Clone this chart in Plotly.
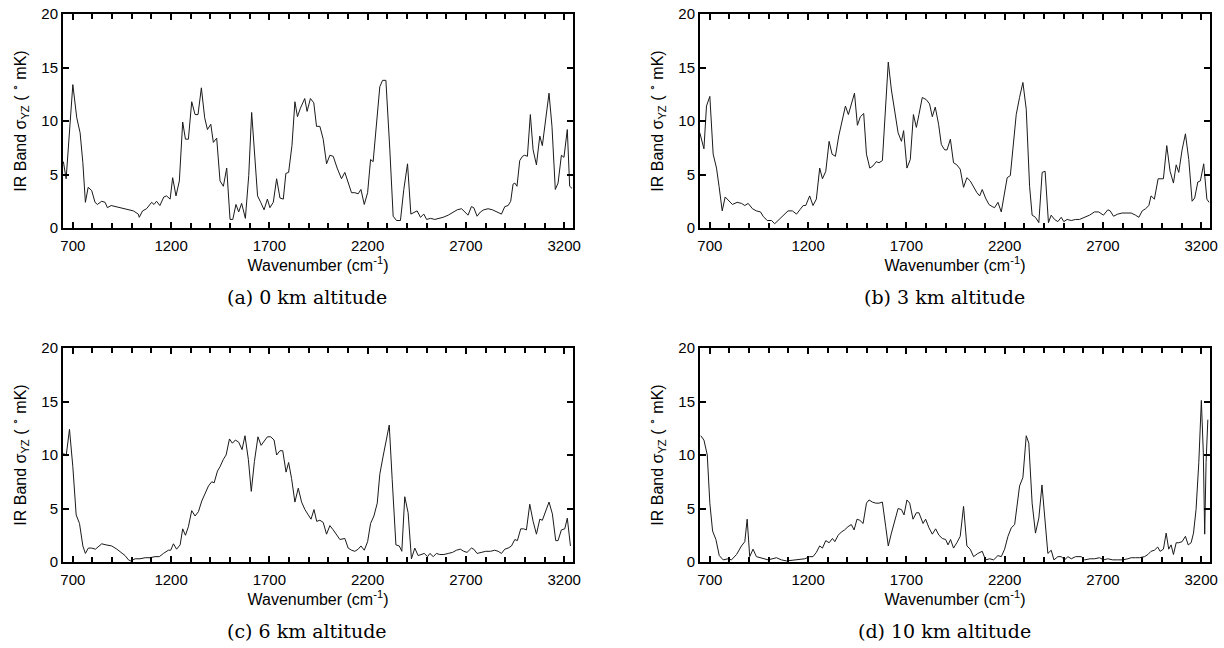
import plotly.graph_objects as go

# ---------------- data ----------------
wn_a = [652, 666, 700, 720, 737, 751, 764, 778, 796, 813,
        825, 847, 864, 876, 895, 940, 1008, 1033, 1038, 1055,
        1075, 1101, 1113, 1126, 1143, 1163, 1177, 1195, 1208, 1225,
        1242, 1259, 1273, 1288, 1305, 1322, 1337, 1354, 1371, 1385,
        1402, 1415, 1432, 1449, 1466, 1483, 1500, 1514, 1530, 1544,
        1559, 1578, 1595, 1610, 1625, 1640, 1656, 1673, 1690, 1703,
        1720, 1737, 1754, 1771, 1784, 1798, 1815, 1830, 1843, 1858,
        1880, 1892, 1909, 1926, 1940, 1957, 1974, 1991, 2008, 2025,
        2045, 2067, 2084, 2101, 2118, 2135, 2152, 2166, 2183, 2200,
        2215, 2228, 2245, 2262, 2276, 2293, 2313, 2330, 2347, 2367,
        2384, 2403, 2420, 2437, 2452, 2469, 2486, 2500, 2520, 2542,
        2564, 2584, 2610, 2635, 2656, 2678, 2694, 2711, 2728, 2740,
        2757, 2774, 2791, 2813, 2835, 2859, 2881, 2898, 2915, 2928,
        2940, 2949, 2960, 2974, 2988, 2999, 3013, 3028, 3042, 3059,
        3076, 3089, 3106, 3123, 3138, 3155, 3169, 3186, 3199, 3216,
        3228, 3240]
val_a = [6.2, 4.6, 13.4, 10.3, 8.9, 6.1, 2.4, 3.8, 3.5, 2.4,
         2.2, 2.5, 2.4, 1.9, 2.1, 1.9, 1.6, 1.3, 1.0, 1.6,
         1.8, 2.4, 2.2, 2.5, 2.1, 2.9, 3.0, 2.7, 4.7, 3.0,
         4.4, 9.9, 8.3, 8.3, 11.8, 10.6, 10.6, 13.1, 10.3, 9.2,
         9.7, 8.0, 8.4, 4.4, 3.9, 5.6, 0.8, 0.8, 2.2, 1.5,
         2.3, 0.9, 4.9, 10.8, 7.2, 3.0, 2.4, 1.7, 2.7, 1.9,
         2.4, 4.6, 2.8, 2.7, 5.1, 5.2, 7.7, 11.8, 10.4, 11.2,
         12.1, 10.9, 12.1, 11.7, 9.5, 9.5, 8.3, 6.0, 6.8, 6.7,
         5.6, 4.6, 5.2, 4.2, 3.3, 3.3, 3.2, 3.6, 2.2, 3.3,
         6.4, 6.2, 10.0, 13.2, 13.8, 13.8, 7.3, 1.1, 0.7, 0.7,
         3.6, 6.0, 1.3, 1.5, 1.6, 1.0, 1.3, 0.8, 0.9, 0.8,
         0.9, 1.0, 1.2, 1.5, 1.7, 1.8, 1.5, 1.2, 2.0, 1.9,
         1.1, 1.5, 1.7, 1.8, 1.7, 1.5, 1.3, 2.0, 2.1, 2.5,
         4.1, 4.2, 3.9, 6.3, 6.7, 6.8, 6.7, 10.6, 7.3, 5.9,
         8.6, 7.7, 10.4, 12.6, 9.5, 3.6, 4.2, 6.8, 6.6, 9.2,
         3.9, 3.7]

wn_b = [649, 670, 683, 700, 717, 734, 747, 763, 778, 798,
        815, 839, 861, 878, 895, 917, 937, 958, 971, 992,
        1014, 1030, 1053, 1076, 1098, 1120, 1141, 1158, 1175, 1188,
        1208, 1225, 1242, 1259, 1273, 1290, 1307, 1322, 1339, 1356,
        1373, 1390, 1405, 1422, 1436, 1451, 1466, 1483, 1497, 1514,
        1530, 1547, 1561, 1578, 1593, 1608, 1624, 1641, 1658, 1675,
        1686, 1703, 1720, 1736, 1751, 1764, 1781, 1801, 1818, 1832,
        1847, 1864, 1878, 1895, 1907, 1924, 1940, 1957, 1974, 1991,
        2008, 2025, 2042, 2059, 2073, 2086, 2103, 2120, 2137, 2149,
        2166, 2183, 2196, 2213, 2229, 2246, 2259, 2276, 2293, 2310,
        2327, 2340, 2357, 2374, 2391, 2406, 2423, 2437, 2454, 2471,
        2488, 2501, 2518, 2539, 2561, 2581, 2607, 2632, 2657, 2679,
        2703, 2725, 2737, 2754, 2776, 2798, 2822, 2844, 2866, 2883,
        2900, 2917, 2934, 2945, 2962, 2981, 2996, 3008, 3025, 3042,
        3059, 3073, 3086, 3103, 3120, 3137, 3154, 3167, 3183, 3196,
        3213, 3229, 3240]
val_b = [8.9, 7.4, 11.4, 12.3, 6.9, 5.6, 3.9, 1.6, 2.9, 2.5,
         2.2, 2.4, 2.3, 2.1, 2.3, 1.8, 1.6, 1.5, 1.1, 0.7,
         0.7, 0.4, 0.8, 1.2, 1.6, 1.6, 1.3, 1.7, 2.1, 2.1,
         3.0, 2.1, 2.7, 5.6, 4.6, 5.3, 8.1, 6.9, 6.7, 8.6,
         10.0, 11.4, 10.6, 11.8, 12.6, 9.6, 10.4, 10.7, 6.9, 5.6,
         5.8, 6.2, 6.1, 6.3, 11.1, 15.5, 12.9, 10.8, 8.9, 8.1,
         9.1, 5.6, 6.4, 10.6, 9.4, 10.6, 12.2, 12.0, 11.6, 10.4,
         11.3, 9.7, 7.8, 7.3, 7.3, 8.3, 6.1, 5.9, 5.5, 3.8,
         4.7, 4.4, 3.8, 3.3, 3.0, 3.6, 2.8, 2.2, 2.0, 1.9,
         2.4, 1.5, 2.9, 4.7, 4.9, 8.3, 10.6, 12.2, 13.6, 11.1,
         3.9, 1.2, 1.0, 0.5, 5.2, 5.3, 0.5, 1.2, 0.8, 0.6,
         1.0, 0.6, 0.8, 0.7, 0.8, 0.8, 1.0, 1.2, 1.5, 1.5,
         1.2, 1.7, 1.6, 1.1, 1.3, 1.4, 1.4, 1.4, 1.2, 1.0,
         1.6, 1.8, 2.1, 3.0, 2.7, 4.6, 4.6, 4.6, 7.7, 5.3,
         4.2, 5.9, 5.2, 7.3, 8.8, 6.4, 2.5, 2.8, 4.3, 4.4,
         6.0, 2.7, 2.4]

wn_c = [652, 666, 683, 700, 717, 734, 751, 764, 779, 796,
        815, 835, 847, 869, 898, 924, 949, 966, 983, 995,
        1017, 1042, 1068, 1093, 1118, 1140, 1161, 1186, 1198, 1212,
        1228, 1246, 1259, 1273, 1288, 1305, 1322, 1339, 1356, 1373,
        1390, 1407, 1419, 1436, 1449, 1466, 1480, 1497, 1512, 1527,
        1544, 1561, 1576, 1593, 1608, 1624, 1642, 1658, 1675, 1690,
        1707, 1724, 1737, 1754, 1768, 1785, 1798, 1813, 1830, 1847,
        1864, 1881, 1898, 1912, 1927, 1941, 1957, 1974, 1991, 2008,
        2025, 2042, 2059, 2084, 2101, 2118, 2135, 2152, 2166, 2183,
        2200, 2215, 2232, 2249, 2262, 2279, 2296, 2310, 2325, 2344,
        2361, 2374, 2389, 2406, 2423, 2440, 2457, 2474, 2488, 2505,
        2517, 2534, 2550, 2567, 2588, 2610, 2632, 2652, 2672, 2689,
        2706, 2728, 2740, 2757, 2779, 2801, 2825, 2847, 2864, 2881,
        2898, 2915, 2932, 2949, 2962, 2979, 2994, 3008, 3025, 3042,
        3059, 3076, 3089, 3106, 3123, 3140, 3157, 3169, 3186, 3203,
        3216, 3232]
val_c = [10.2, 9.9, 12.4, 8.9, 4.4, 3.6, 1.5, 0.8, 1.3, 1.3,
         1.2, 1.5, 1.7, 1.6, 1.5, 1.2, 0.8, 0.6, 0.2, 0.1,
         0.3, 0.3, 0.4, 0.4, 0.5, 0.5, 0.8, 1.1, 1.1, 1.7,
         1.2, 1.6, 3.1, 2.5, 3.3, 4.8, 4.3, 4.7, 5.7, 6.4,
         7.1, 7.5, 7.4, 8.5, 8.9, 9.6, 10.0, 11.5, 11.1, 11.4,
         11.2, 10.5, 11.8, 9.6, 6.6, 9.4, 11.7, 10.9, 11.3, 11.7,
         11.7, 11.4, 10.0, 10.4, 10.4, 8.4, 9.3, 7.8, 5.6, 6.9,
         5.6, 4.9, 4.4, 4.0, 4.9, 3.8, 3.9, 3.7, 2.6, 3.4,
         3.0, 2.5, 2.1, 2.2, 1.3, 1.1, 1.0, 1.2, 1.5, 1.1,
         1.9, 3.6, 4.3, 5.5, 8.2, 9.9, 11.4, 12.8, 7.7, 1.6,
         1.5, 1.0, 6.1, 4.6, 0.3, 1.3, 0.6, 0.7, 0.8, 0.5,
         0.8, 0.5, 0.8, 0.7, 0.7, 0.8, 0.9, 1.1, 1.2, 1.0,
         0.9, 1.3, 1.2, 0.8, 0.9, 1.0, 1.0, 1.1, 1.0, 0.8,
         1.2, 1.3, 1.5, 2.1, 2.0, 3.1, 3.1, 3.0, 5.4, 3.8,
         2.6, 4.0, 3.9, 4.7, 5.6, 4.5, 2.0, 2.0, 3.0, 3.1,
         4.1, 1.5]

wn_d = [654, 670, 687, 700, 714, 731, 748, 768, 793, 810,
        836, 861, 878, 890, 903, 920, 937, 963, 997, 1039,
        1064, 1090, 1141, 1183, 1208, 1225, 1242, 1259, 1273, 1290,
        1307, 1324, 1336, 1353, 1369, 1386, 1403, 1420, 1434, 1449,
        1463, 1480, 1497, 1510, 1527, 1544, 1561, 1578, 1595, 1608,
        1624, 1641, 1658, 1675, 1688, 1703, 1717, 1734, 1751, 1764,
        1785, 1798, 1815, 1832, 1849, 1866, 1883, 1900, 1912, 1925,
        1940, 1957, 1974, 1991, 2008, 2025, 2042, 2064, 2086, 2103,
        2124, 2144, 2166, 2183, 2200, 2217, 2234, 2251, 2262, 2276,
        2293, 2310, 2323, 2340, 2357, 2374, 2390, 2406, 2420, 2437,
        2451, 2471, 2488, 2505, 2522, 2539, 2561, 2590, 2607, 2635,
        2657, 2683, 2703, 2725, 2750, 2776, 2801, 2827, 2844, 2866,
        2886, 2912, 2929, 2945, 2962, 2979, 2991, 3008, 3022, 3035,
        3047, 3059, 3073, 3086, 3103, 3120, 3134, 3149, 3161, 3174,
        3188, 3201, 3211, 3218, 3225, 3234]
val_d = [11.8, 11.4, 10.0, 5.5, 2.9, 2.1, 0.6, 0.2, 0.3, 0.2,
         0.7, 1.5, 1.9, 4.0, 0.5, 1.2, 0.5, 0.4, 0.2, 0.4,
         0.2, 0.1, 0.2, 0.3, 0.5, 0.5, 0.9, 1.5, 1.3, 2.0,
         1.8, 2.2, 1.9, 2.5, 2.8, 3.0, 3.3, 3.5, 3.0, 4.0,
         3.9, 3.6, 5.5, 5.8, 5.6, 5.5, 5.5, 5.6, 3.3, 1.5,
         2.7, 3.8, 5.0, 4.9, 4.4, 5.8, 5.5, 4.0, 4.6, 4.6,
         3.6, 4.0, 3.2, 2.6, 3.1, 2.5, 2.2, 2.1, 1.6, 2.1,
         1.3, 1.8, 2.4, 5.2, 1.5, 1.2, 0.5, 0.8, 1.0, 0.2,
         0.3, 0.2, 0.6, 0.5, 1.2, 2.4, 3.2, 3.5, 4.9, 7.1,
         7.9, 11.8, 11.1, 5.5, 2.7, 4.1, 7.2, 4.0, 0.8, 1.1,
         0.2, 0.5, 0.5, 0.2, 0.5, 0.3, 0.5, 0.5, 0.2, 0.3,
         0.3, 0.4, 0.2, 0.3, 0.2, 0.2, 0.2, 0.3, 0.4, 0.4,
         0.4, 0.5, 0.7, 1.0, 1.1, 1.4, 1.0, 1.2, 2.7, 1.2,
         1.6, 0.7, 1.8, 1.8, 1.9, 2.4, 1.6, 1.8, 2.7, 4.9,
         9.3, 15.1, 10.2, 2.6, 9.3, 13.3]

captions = ["(a) 0 km altitude", "(b) 3 km altitude",
            "(c) 6 km altitude", "(d) 10 km altitude"]
x_title = "Wavenumber (cm<sup>-1</sup>)"
y_title = "IR Band σ<sub>YZ</sub> ( <sup>∘</sup> mK)"

# ---------------- figure ----------------
W, H = 1224, 648
panels = [(wn_a, val_a), (wn_b, val_b), (wn_c, val_c), (wn_d, val_d)]
col_px = [(63, 573), (700, 1210)]
row_px = [(14, 228), (348, 562)]
caption_y = [297, 631]
caption_shift = -11

sans = "Liberation Sans, Arial, Helvetica, sans-serif"
serif = "DejaVu Serif, Liberation Serif, serif"

fig = go.Figure()
layout = dict(width=W, height=H, margin=dict(l=0, r=0, t=0, b=0, pad=0, autoexpand=False),
              paper_bgcolor="white", plot_bgcolor="white",
              showlegend=False, font=dict(family=sans, color="black"))
annotations = []

for i, (xs, ys) in enumerate(panels):
    r, c = divmod(i, 2)
    sx = "" if i == 0 else str(i + 1)
    fig.add_trace(go.Scatter(x=xs, y=ys, mode="lines", xaxis="x" + sx, yaxis="y" + sx,
                             line=dict(color="#1a1a1a", width=1)))
    x0, x1 = col_px[c]
    y0, y1 = row_px[r]
    layout["xaxis" + sx] = dict(
        domain=[x0 / W, x1 / W], anchor="y" + sx, range=[650, 3245], automargin=False,
        tickmode="linear", tick0=700, dtick=500,
        ticks="inside", ticklen=6, tickwidth=2, tickcolor="black",
        minor=dict(tick0=700, dtick=100, ticks="inside", ticklen=5, tickwidth=2,
                   tickcolor="black", showgrid=False),
        mirror="allticks", showline=True, linewidth=2, linecolor="black",
        showgrid=False, zeroline=False, ticklabelstandoff=3,
        tickfont=dict(family=sans, size=15, color="black"),
        title=dict(text=x_title, standoff=6, font=dict(family=sans, size=16, color="black")))
    layout["yaxis" + sx] = dict(
        domain=[1 - y1 / H, 1 - y0 / H], anchor="x" + sx, range=[0, 20], automargin=False,
        tickmode="linear", tick0=0, dtick=5,
        ticks="inside", ticklen=6, tickwidth=2, tickcolor="black",
        mirror="allticks", showline=True, linewidth=2, linecolor="black",
        showgrid=False, zeroline=False,
        tickfont=dict(family=sans, size=15, color="black"),
        title=dict(text=y_title, standoff=11, font=dict(family=sans, size=16, color="black")))
    annotations.append(dict(text=captions[i], xref="paper", yref="paper",
                            x=((x0 + x1) / 2 + caption_shift) / W, y=1 - caption_y[r] / H,
                            xanchor="center", yanchor="middle", showarrow=False,
                            font=dict(family=serif, size=19, color="black")))

layout["annotations"] = annotations
fig.update_layout(**layout)
fig.write_html("out.html", config={"displayModeBar": False},
               post_script="document.body.style.margin='0px';document.body.style.overflow='hidden';")
